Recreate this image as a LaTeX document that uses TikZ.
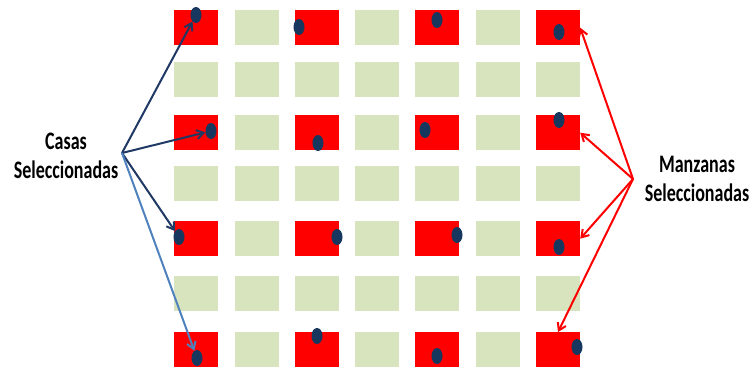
\documentclass[tikz,border=0pt]{standalone}
\usepackage{fontspec}
\setmainfont{Carlito}
\usetikzlibrary{arrows.meta,shapes.geometric}
\definecolor{boxRed}{HTML}{FF0000}
\definecolor{boxGreen}{HTML}{D7E4BD}
\definecolor{dotNavy}{HTML}{17375E}
\definecolor{arrNavy}{HTML}{1F3864}
\definecolor{arrBlue}{HTML}{4F81BD}
\newcommand{\tallstack}[1]{\scalebox{1}[1.4]{\begin{tabular}{@{}c@{}}#1\end{tabular}}}

\begin{document}
\begin{tikzpicture}[x=1pt, y=-1pt,
  bx/.style={minimum width=44pt, minimum height=35pt, inner sep=0pt, anchor=north west},
  dt/.style={ellipse, fill=dotNavy, minimum width=11pt, minimum height=16pt, inner sep=0pt},
  arr/.style={line width=2pt, -{Straight Barb[length=7pt,width=9pt]}},
  lbl/.style={font=\bfseries\fontsize{18}{21}\selectfont, inner sep=0pt}]
\useasboundingbox (0,0) rectangle (751,368);
% grid of blocks, red where row and column are both even
\foreach \y [count=\j from 0] in {10,62,115,166,221,276,332} {
  \foreach \i in {0,...,6} {
    \pgfmathtruncatemacro\odd{mod(\i,2)+mod(\j,2)}
    \ifnum\odd=0 \def\fc{boxRed}\else\def\fc{boxGreen}\fi
    \node[bx, fill=\fc] (b-\i-\j) at ({174+60.3*\i},\y) {};
  }
}
% selected houses
\foreach \i/\j/\x/\y in {0/0/196/15, 2/0/299/27, 4/0/437/20, 6/0/559/32,
  0/2/211/131, 2/2/318/143, 4/2/425/130, 6/2/559/120,
  0/4/179/237, 2/4/337/237, 4/4/457/235, 6/4/559/247,
  0/6/197/358, 2/6/317/336, 4/6/437/356, 6/6/577/347}
  \node[dt] (d-\i-\j) at (\x,\y) {};
% labels
\node[lbl] (casas) at (66,158) {\tallstack{Casas\\Seleccionadas}};
\node[lbl] (manz) at (697,181) {\tallstack{Manzanas\\Seleccionadas}};
\coordinate (cas) at (122,153);
\coordinate (man) at (633,179);
% arrows
\foreach \j in {0,2,4}
  \draw[arr, arrNavy] (cas) -- (d-0-\j);
\draw[arr, arrBlue] (cas) -- (d-0-6);
\foreach \j in {0,2,4}
  \draw[arr, boxRed] (man) -- (b-6-\j.east);
\draw[arr, boxRed] (man) -- (b-6-6.north);
\end{tikzpicture}
\end{document}
